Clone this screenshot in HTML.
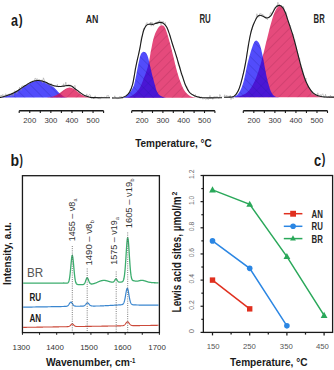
<!DOCTYPE html>
<html><head><meta charset="utf-8"><style>
html,body{margin:0;padding:0;background:#fff;width:334px;height:370px;overflow:hidden}
svg{display:block}
text{font-family:"Liberation Sans",sans-serif}
</style></head><body>
<svg width="334" height="370" viewBox="0 0 334 370">
<defs>
<pattern id="hb" patternUnits="userSpaceOnUse" width="6.5" height="6.5" patternTransform="rotate(-45)"><line x1="0" y1="0" x2="0" y2="6.5" stroke="#1a1a90" stroke-width="0.7" stroke-opacity="0.6"/></pattern>
<pattern id="hp" patternUnits="userSpaceOnUse" width="6.8" height="6.8" patternTransform="rotate(45)"><line x1="0" y1="0" x2="0" y2="6.8" stroke="#8a2045" stroke-width="0.7" stroke-opacity="0.6"/></pattern>
</defs>
<path d="M0.00,97.60 C0.23,97.57 0.45,97.62 1.35,97.40 C2.25,97.18 4.12,96.70 5.40,96.30 C6.68,95.90 7.65,95.52 9.00,95.00 C10.35,94.48 12.00,93.92 13.50,93.20 C15.00,92.48 16.50,91.62 18.00,90.70 C19.50,89.78 21.17,88.57 22.50,87.70 C23.83,86.83 24.97,86.17 26.00,85.50 C27.03,84.83 27.80,84.25 28.70,83.70 C29.60,83.15 30.35,82.65 31.40,82.20 C32.45,81.75 33.80,81.23 35.00,81.00 C36.20,80.77 37.40,80.75 38.60,80.80 C39.80,80.85 41.00,81.00 42.20,81.30 C43.40,81.60 44.60,82.10 45.80,82.60 C47.00,83.10 48.37,83.73 49.40,84.30 C50.43,84.87 51.23,85.45 52.00,86.00 C52.77,86.55 53.07,86.73 54.00,87.60 C54.93,88.47 56.60,90.20 57.60,91.20 C58.60,92.20 58.98,92.73 60.00,93.60 C61.02,94.47 62.37,95.73 63.70,96.40 C65.03,97.07 67.28,97.40 68.00,97.60 L68.00,97.60 L0.00,97.60 Z" fill="#0800fa" fill-opacity="0.70"/>
<path d="M0.00,97.60 C0.23,97.57 0.45,97.62 1.35,97.40 C2.25,97.18 4.12,96.70 5.40,96.30 C6.68,95.90 7.65,95.52 9.00,95.00 C10.35,94.48 12.00,93.92 13.50,93.20 C15.00,92.48 16.50,91.62 18.00,90.70 C19.50,89.78 21.17,88.57 22.50,87.70 C23.83,86.83 24.97,86.17 26.00,85.50 C27.03,84.83 27.80,84.25 28.70,83.70 C29.60,83.15 30.35,82.65 31.40,82.20 C32.45,81.75 33.80,81.23 35.00,81.00 C36.20,80.77 37.40,80.75 38.60,80.80 C39.80,80.85 41.00,81.00 42.20,81.30 C43.40,81.60 44.60,82.10 45.80,82.60 C47.00,83.10 48.37,83.73 49.40,84.30 C50.43,84.87 51.23,85.45 52.00,86.00 C52.77,86.55 53.07,86.73 54.00,87.60 C54.93,88.47 56.60,90.20 57.60,91.20 C58.60,92.20 58.98,92.73 60.00,93.60 C61.02,94.47 62.37,95.73 63.70,96.40 C65.03,97.07 67.28,97.40 68.00,97.60 L68.00,97.60 L0.00,97.60 Z" fill="url(#hb)"/>
<path d="M43.40,97.60 L43.40,97.56 L43.90,97.55 L44.40,97.54 L44.90,97.52 L45.40,97.50 L45.90,97.48 L46.40,97.46 L46.90,97.43 L47.40,97.40 L47.90,97.36 L48.40,97.32 L48.90,97.27 L49.40,97.21 L49.90,97.15 L50.40,97.07 L50.90,96.99 L51.40,96.89 L51.90,96.78 L52.40,96.66 L52.90,96.53 L53.40,96.38 L53.90,96.21 L54.40,96.03 L54.90,95.84 L55.40,95.62 L55.90,95.39 L56.40,95.14 L56.90,94.87 L57.40,94.59 L57.90,94.29 L58.40,93.98 L58.90,93.65 L59.40,93.30 L59.90,92.95 L60.40,92.59 L60.90,92.21 L61.40,91.84 L61.90,91.46 L62.40,91.08 L62.90,90.71 L63.40,90.34 L63.90,89.98 L64.40,89.64 L64.90,89.31 L65.40,89.00 L65.90,88.72 L66.40,88.46 L66.90,88.24 L67.40,88.04 L67.90,87.88 L68.40,87.75 L68.90,87.66 L69.40,87.61 L69.90,87.60 L70.40,87.63 L70.90,87.70 L71.40,87.82 L71.90,87.97 L72.40,88.17 L72.90,88.40 L73.40,88.66 L73.90,88.95 L74.40,89.27 L74.90,89.62 L75.40,89.98 L75.90,90.35 L76.40,90.74 L76.90,91.14 L77.40,91.53 L77.90,91.93 L78.40,92.33 L78.90,92.72 L79.40,93.10 L79.90,93.46 L80.40,93.82 L80.90,94.16 L81.40,94.48 L81.90,94.78 L82.40,95.07 L82.90,95.34 L83.40,95.58 L83.90,95.81 L84.40,96.02 L84.90,96.21 L85.40,96.38 L85.90,96.54 L86.40,96.68 L86.90,96.80 L87.40,96.92 L87.90,97.01 L88.40,97.10 L88.90,97.17 L89.40,97.24 L89.90,97.30 L90.40,97.35 L90.90,97.39 L91.40,97.42 L91.90,97.45 L92.40,97.48 L92.90,97.50 L93.40,97.52 L93.90,97.53 L94.40,97.55 L94.40,97.60 Z" fill="rgb(220,11,77)" fill-opacity="0.75"/>
<path d="M43.40,97.60 L43.40,97.56 L43.90,97.55 L44.40,97.54 L44.90,97.52 L45.40,97.50 L45.90,97.48 L46.40,97.46 L46.90,97.43 L47.40,97.40 L47.90,97.36 L48.40,97.32 L48.90,97.27 L49.40,97.21 L49.90,97.15 L50.40,97.07 L50.90,96.99 L51.40,96.89 L51.90,96.78 L52.40,96.66 L52.90,96.53 L53.40,96.38 L53.90,96.21 L54.40,96.03 L54.90,95.84 L55.40,95.62 L55.90,95.39 L56.40,95.14 L56.90,94.87 L57.40,94.59 L57.90,94.29 L58.40,93.98 L58.90,93.65 L59.40,93.30 L59.90,92.95 L60.40,92.59 L60.90,92.21 L61.40,91.84 L61.90,91.46 L62.40,91.08 L62.90,90.71 L63.40,90.34 L63.90,89.98 L64.40,89.64 L64.90,89.31 L65.40,89.00 L65.90,88.72 L66.40,88.46 L66.90,88.24 L67.40,88.04 L67.90,87.88 L68.40,87.75 L68.90,87.66 L69.40,87.61 L69.90,87.60 L70.40,87.63 L70.90,87.70 L71.40,87.82 L71.90,87.97 L72.40,88.17 L72.90,88.40 L73.40,88.66 L73.90,88.95 L74.40,89.27 L74.90,89.62 L75.40,89.98 L75.90,90.35 L76.40,90.74 L76.90,91.14 L77.40,91.53 L77.90,91.93 L78.40,92.33 L78.90,92.72 L79.40,93.10 L79.90,93.46 L80.40,93.82 L80.90,94.16 L81.40,94.48 L81.90,94.78 L82.40,95.07 L82.90,95.34 L83.40,95.58 L83.90,95.81 L84.40,96.02 L84.90,96.21 L85.40,96.38 L85.90,96.54 L86.40,96.68 L86.90,96.80 L87.40,96.92 L87.90,97.01 L88.40,97.10 L88.90,97.17 L89.40,97.24 L89.90,97.30 L90.40,97.35 L90.90,97.39 L91.40,97.42 L91.90,97.45 L92.40,97.48 L92.90,97.50 L93.40,97.52 L93.90,97.53 L94.40,97.55 L94.40,97.60 Z" fill="url(#hp)"/>
<path d="M0.00,94.82 L0.70,96.84 L1.40,94.98 L2.10,96.45 L2.80,94.36 L3.50,95.66 L4.20,96.66 L4.90,96.37 L5.60,93.81 L6.30,94.24 L7.00,95.28 L7.70,94.85 L8.40,95.22 L9.10,93.70 L9.80,94.09 L10.50,95.78 L11.20,95.85 L11.90,95.60 L12.60,93.44 L13.30,95.63 L14.00,92.22 L14.70,90.68 L15.40,91.38 L16.10,92.00 L16.80,93.55 L17.50,90.94 L18.20,90.31 L18.90,90.54 L19.60,87.12 L20.30,89.15 L21.00,90.25 L21.70,86.17 L22.40,85.87 L23.10,85.84 L23.80,86.41 L24.50,85.55 L25.20,85.77 L25.90,85.71 L26.60,84.49 L27.30,84.13 L28.00,83.10 L28.70,84.52 L29.40,83.90 L30.10,82.44 L30.80,82.27 L31.50,82.12 L32.20,81.74 L32.90,80.68 L33.60,81.46 L34.30,81.28 L35.00,78.16 L35.70,78.52 L36.40,80.04 L37.10,78.52 L37.80,79.92 L38.50,79.83 L39.20,79.14 L39.90,80.38 L40.60,80.16 L41.30,81.49 L42.00,79.71 L42.70,82.91 L43.40,77.80 L44.10,79.46 L44.80,81.23 L45.50,82.85 L46.20,84.07 L46.90,82.31 L47.60,83.14 L48.30,85.14 L49.00,84.41 L49.70,84.46 L50.40,86.23 L51.10,83.41 L51.80,86.47 L52.50,85.92 L53.20,86.16 L53.90,86.41 L54.60,86.65 L55.30,85.69 L56.00,86.79 L56.70,86.31 L57.40,84.38 L58.10,87.04 L58.80,86.85 L59.50,86.05 L60.20,86.24 L60.90,87.08 L61.60,86.21 L62.30,85.29 L63.00,85.68 L63.70,83.70 L64.40,86.66 L65.10,85.66 L65.80,82.09 L66.50,85.82 L67.20,86.11 L67.90,85.94 L68.60,86.22 L69.30,85.09 L70.00,85.24 L70.70,85.28 L71.40,85.90 L72.10,86.61 L72.80,86.87 L73.50,87.52 L74.20,86.12 L74.90,85.36 L75.60,88.63 L76.30,89.93 L77.00,89.90 L77.70,90.75 L78.40,90.66 L79.10,93.33 L79.80,92.34 L80.50,93.24 L81.20,93.31 L81.90,93.88 L82.60,94.60 L83.30,94.82 L84.00,95.79 L84.70,96.05 L85.40,95.49 L86.10,96.71 L86.80,93.86 L87.50,96.87 L88.20,97.01 L88.90,94.94 L89.60,94.41 L90.30,94.85 L91.00,97.30 L91.70,98.20 L92.40,97.08 L93.10,97.59 L93.80,99.01 L94.50,96.94 L95.20,95.82 L95.90,97.82 L96.60,97.04 L97.30,98.07 L98.00,97.98 L98.70,99.06 L99.40,97.58 L100.10,99.16 L100.80,98.30 L101.50,96.87 L102.20,97.99 L102.90,97.13 L103.60,97.93 L104.30,97.16 L105.00,97.14 L105.70,97.69 L106.40,97.84 L107.10,95.29 L107.80,96.06 L108.50,95.47 L109.20,97.52 L109.90,97.50" fill="none" stroke="#a0a0a0" stroke-width="0.55"/>
<path d="M0.00,97.50 C0.23,97.47 0.45,97.53 1.35,97.30 C2.25,97.07 4.12,96.52 5.40,96.10 C6.68,95.68 7.65,95.32 9.00,94.80 C10.35,94.28 12.00,93.72 13.50,93.00 C15.00,92.28 16.50,91.43 18.00,90.50 C19.50,89.57 21.17,88.28 22.50,87.40 C23.83,86.52 24.97,85.87 26.00,85.20 C27.03,84.53 27.80,83.95 28.70,83.40 C29.60,82.85 30.35,82.35 31.40,81.90 C32.45,81.45 33.80,80.93 35.00,80.70 C36.20,80.47 37.40,80.45 38.60,80.50 C39.80,80.55 41.00,80.70 42.20,81.00 C43.40,81.30 44.60,81.82 45.80,82.30 C47.00,82.78 48.03,83.32 49.40,83.90 C50.77,84.48 52.43,85.37 54.00,85.80 C55.57,86.23 57.20,86.45 58.80,86.50 C60.40,86.55 62.00,86.28 63.60,86.10 C65.20,85.92 67.10,85.40 68.40,85.40 C69.70,85.40 70.40,85.63 71.40,86.10 C72.40,86.57 73.30,87.40 74.40,88.20 C75.50,89.00 76.82,90.00 78.00,90.90 C79.18,91.80 80.32,92.80 81.50,93.60 C82.68,94.40 83.70,95.10 85.10,95.70 C86.50,96.30 88.42,96.88 89.90,97.20 C91.38,97.52 90.65,97.50 94.00,97.60 C97.35,97.70 107.33,97.77 110.00,97.80" fill="none" stroke="#1a1a1a" stroke-width="1.1"/>
<path d="M124.00,97.80 C124.93,97.62 127.77,97.42 129.60,96.70 C131.43,95.98 133.27,95.03 135.00,93.50 C136.73,91.97 138.58,89.92 140.00,87.50 C141.42,85.08 142.42,81.75 143.50,79.00 C144.58,76.25 145.67,73.50 146.50,71.00 C147.33,68.50 147.97,66.17 148.50,64.00 C149.03,61.83 149.35,59.92 149.70,58.00 C150.05,56.08 150.28,54.25 150.60,52.50 C150.92,50.75 151.22,49.42 151.60,47.50 C151.98,45.58 152.35,43.20 152.90,41.00 C153.45,38.80 154.12,36.33 154.90,34.30 C155.68,32.27 156.82,30.15 157.60,28.80 C158.38,27.45 158.93,26.80 159.60,26.20 C160.27,25.60 160.95,25.27 161.60,25.20 C162.25,25.13 162.88,25.25 163.50,25.80 C164.12,26.35 164.72,27.30 165.30,28.50 C165.88,29.70 166.20,30.45 167.00,33.00 C167.80,35.55 169.03,39.83 170.10,43.80 C171.17,47.77 172.32,52.47 173.40,56.80 C174.48,61.13 175.52,65.83 176.60,69.80 C177.68,73.77 178.63,77.18 179.90,80.60 C181.17,84.02 182.58,87.78 184.20,90.30 C185.82,92.82 187.80,94.50 189.60,95.70 C191.40,96.90 193.27,97.15 195.00,97.50 C196.73,97.85 199.17,97.75 200.00,97.80 L200.00,97.80 L124.00,97.80 Z" fill="#e54a7c"/>
<path d="M124.00,97.80 C124.93,97.62 127.77,97.42 129.60,96.70 C131.43,95.98 133.27,95.03 135.00,93.50 C136.73,91.97 138.58,89.92 140.00,87.50 C141.42,85.08 142.42,81.75 143.50,79.00 C144.58,76.25 145.67,73.50 146.50,71.00 C147.33,68.50 147.97,66.17 148.50,64.00 C149.03,61.83 149.35,59.92 149.70,58.00 C150.05,56.08 150.28,54.25 150.60,52.50 C150.92,50.75 151.22,49.42 151.60,47.50 C151.98,45.58 152.35,43.20 152.90,41.00 C153.45,38.80 154.12,36.33 154.90,34.30 C155.68,32.27 156.82,30.15 157.60,28.80 C158.38,27.45 158.93,26.80 159.60,26.20 C160.27,25.60 160.95,25.27 161.60,25.20 C162.25,25.13 162.88,25.25 163.50,25.80 C164.12,26.35 164.72,27.30 165.30,28.50 C165.88,29.70 166.20,30.45 167.00,33.00 C167.80,35.55 169.03,39.83 170.10,43.80 C171.17,47.77 172.32,52.47 173.40,56.80 C174.48,61.13 175.52,65.83 176.60,69.80 C177.68,73.77 178.63,77.18 179.90,80.60 C181.17,84.02 182.58,87.78 184.20,90.30 C185.82,92.82 187.80,94.50 189.60,95.70 C191.40,96.90 193.27,97.15 195.00,97.50 C196.73,97.85 199.17,97.75 200.00,97.80 L200.00,97.80 L124.00,97.80 Z" fill="url(#hp)"/>
<path d="M121.50,97.80 C122.17,97.57 124.27,97.10 125.50,96.40 C126.73,95.70 127.80,94.83 128.90,93.60 C130.00,92.37 131.22,90.53 132.10,89.00 C132.98,87.47 133.52,86.70 134.20,84.40 C134.88,82.10 135.53,78.43 136.20,75.20 C136.87,71.97 137.52,68.23 138.20,65.00 C138.88,61.77 139.63,57.87 140.30,55.80 C140.97,53.73 141.55,53.25 142.20,52.60 C142.85,51.95 143.53,51.80 144.20,51.90 C144.87,52.00 145.55,52.27 146.20,53.20 C146.85,54.13 147.45,55.37 148.10,57.50 C148.75,59.63 149.42,63.08 150.10,66.00 C150.78,68.92 151.47,72.08 152.20,75.00 C152.93,77.92 153.73,80.80 154.50,83.50 C155.27,86.20 155.88,89.20 156.80,91.20 C157.72,93.20 158.63,94.43 160.00,95.50 C161.37,96.57 163.67,97.22 165.00,97.60 C166.33,97.98 167.50,97.77 168.00,97.80 L168.00,97.80 L121.50,97.80 Z" fill="#0800fa" fill-opacity="0.70"/>
<path d="M121.50,97.80 C122.17,97.57 124.27,97.10 125.50,96.40 C126.73,95.70 127.80,94.83 128.90,93.60 C130.00,92.37 131.22,90.53 132.10,89.00 C132.98,87.47 133.52,86.70 134.20,84.40 C134.88,82.10 135.53,78.43 136.20,75.20 C136.87,71.97 137.52,68.23 138.20,65.00 C138.88,61.77 139.63,57.87 140.30,55.80 C140.97,53.73 141.55,53.25 142.20,52.60 C142.85,51.95 143.53,51.80 144.20,51.90 C144.87,52.00 145.55,52.27 146.20,53.20 C146.85,54.13 147.45,55.37 148.10,57.50 C148.75,59.63 149.42,63.08 150.10,66.00 C150.78,68.92 151.47,72.08 152.20,75.00 C152.93,77.92 153.73,80.80 154.50,83.50 C155.27,86.20 155.88,89.20 156.80,91.20 C157.72,93.20 158.63,94.43 160.00,95.50 C161.37,96.57 163.67,97.22 165.00,97.60 C166.33,97.98 167.50,97.77 168.00,97.80 L168.00,97.80 L121.50,97.80 Z" fill="url(#hb)"/>
<path d="M112.00,97.45 L112.70,98.08 L113.40,98.28 L114.10,97.55 L114.80,95.81 L115.50,97.91 L116.20,98.47 L116.90,98.00 L117.60,98.66 L118.30,98.44 L119.00,98.15 L119.70,96.42 L120.40,97.26 L121.10,96.24 L121.80,98.11 L122.50,98.86 L123.20,96.99 L123.90,96.57 L124.60,96.43 L125.30,97.07 L126.00,95.61 L126.70,95.17 L127.40,94.12 L128.10,94.06 L128.80,92.82 L129.50,92.44 L130.20,89.75 L130.90,90.78 L131.60,87.63 L132.30,85.65 L133.00,83.33 L133.70,78.97 L134.40,74.71 L135.10,68.40 L135.80,67.57 L136.50,63.95 L137.20,59.93 L137.90,57.31 L138.60,54.57 L139.30,51.17 L140.00,47.94 L140.70,42.11 L141.40,36.85 L142.10,36.62 L142.80,33.72 L143.50,28.23 L144.20,29.37 L144.90,27.54 L145.60,25.69 L146.30,23.48 L147.00,22.50 L147.70,25.15 L148.40,24.16 L149.10,24.48 L149.80,24.33 L150.50,22.04 L151.20,26.21 L151.90,22.04 L152.60,24.58 L153.30,26.09 L154.00,24.09 L154.70,23.36 L155.40,23.18 L156.10,21.91 L156.80,23.52 L157.50,23.89 L158.20,21.00 L158.90,21.99 L159.60,20.23 L160.30,22.43 L161.00,24.86 L161.70,21.59 L162.40,22.83 L163.10,21.17 L163.80,23.44 L164.50,23.60 L165.20,22.44 L165.90,26.17 L166.60,26.66 L167.30,28.17 L168.00,30.14 L168.70,32.72 L169.40,33.45 L170.10,35.81 L170.80,39.61 L171.50,40.42 L172.20,43.82 L172.90,45.81 L173.60,48.09 L174.30,49.70 L175.00,51.13 L175.70,53.86 L176.40,57.23 L177.10,57.02 L177.80,62.51 L178.50,65.73 L179.20,65.51 L179.90,66.72 L180.60,70.18 L181.30,74.97 L182.00,75.81 L182.70,75.64 L183.40,77.74 L184.10,81.20 L184.80,83.99 L185.50,85.05 L186.20,86.81 L186.90,86.41 L187.60,88.12 L188.30,90.92 L189.00,92.51 L189.70,92.47 L190.40,93.95 L191.10,93.34 L191.80,94.66 L192.50,94.75 L193.20,94.45 L193.90,96.09 L194.60,96.31 L195.30,94.44 L196.00,96.45 L196.70,97.28 L197.40,97.07 L198.10,96.97 L198.80,96.53 L199.50,96.94 L200.20,98.62 L200.90,97.22 L201.60,96.79 L202.30,97.76 L203.00,99.26 L203.70,98.55 L204.40,98.43 L205.10,98.34 L205.80,99.62 L206.50,98.94 L207.20,97.82 L207.90,99.47 L208.60,99.27 L209.30,97.60 L210.00,95.33 L210.70,98.16 L211.40,97.42 L212.10,97.56 L212.80,99.35 L213.50,97.54 L214.20,96.33 L214.90,97.71 L215.60,96.58 L216.30,97.42 L217.00,96.18 L217.70,97.66 L218.40,98.35 L219.10,98.50 L219.80,94.51 L220.50,95.69 L221.20,97.63 L221.90,96.56" fill="none" stroke="#a0a0a0" stroke-width="0.55"/>
<path d="M112.00,97.90 C112.67,97.92 114.42,98.03 116.00,98.00 C117.58,97.97 119.82,98.05 121.50,97.70 C123.18,97.35 124.72,96.90 126.10,95.90 C127.48,94.90 128.72,93.62 129.80,91.70 C130.88,89.78 131.83,87.15 132.60,84.40 C133.37,81.65 133.85,78.18 134.40,75.20 C134.95,72.22 135.25,69.78 135.90,66.50 C136.55,63.22 137.63,58.55 138.30,55.50 C138.97,52.45 139.32,51.13 139.90,48.20 C140.48,45.27 141.13,40.97 141.80,37.90 C142.47,34.83 143.13,31.90 143.90,29.80 C144.67,27.70 145.50,26.23 146.40,25.30 C147.30,24.37 148.15,24.37 149.30,24.20 C150.45,24.03 152.07,24.48 153.30,24.30 C154.53,24.12 155.58,23.42 156.70,23.10 C157.82,22.78 158.88,22.35 160.00,22.40 C161.12,22.45 162.27,22.58 163.40,23.40 C164.53,24.22 165.73,25.33 166.80,27.30 C167.87,29.27 168.88,32.50 169.80,35.20 C170.72,37.90 171.17,39.90 172.30,43.50 C173.43,47.10 175.15,52.07 176.60,56.80 C178.05,61.53 179.55,67.25 181.00,71.90 C182.45,76.55 183.87,81.27 185.30,84.70 C186.73,88.13 187.98,90.62 189.60,92.50 C191.22,94.38 193.27,95.18 195.00,96.00 C196.73,96.82 198.33,97.10 200.00,97.40 C201.67,97.70 201.33,97.73 205.00,97.80 C208.67,97.87 219.17,97.80 222.00,97.80" fill="none" stroke="#1a1a1a" stroke-width="1.1"/>
<path d="M235.25,97.20 L235.25,96.81 L235.75,96.75 L236.25,96.70 L236.75,96.63 L237.25,96.56 L237.75,96.49 L238.25,96.40 L238.75,96.30 L239.25,96.20 L239.75,96.08 L240.25,95.95 L240.75,95.81 L241.25,95.65 L241.75,95.48 L242.25,95.29 L242.75,95.09 L243.25,94.86 L243.75,94.62 L244.25,94.35 L244.75,94.06 L245.25,93.75 L245.75,93.41 L246.25,93.04 L246.75,92.64 L247.25,92.21 L247.75,91.75 L248.25,91.25 L248.75,90.72 L249.25,90.15 L249.75,89.53 L250.25,88.88 L250.75,88.18 L251.25,87.44 L251.75,86.66 L252.25,85.82 L252.75,84.94 L253.25,84.00 L253.75,83.01 L254.25,81.97 L254.75,80.88 L255.25,79.73 L255.75,78.52 L256.25,77.26 L256.75,75.95 L257.25,74.57 L257.75,73.15 L258.25,71.66 L258.75,70.13 L259.25,68.54 L259.75,66.90 L260.25,65.20 L260.75,63.47 L261.25,61.68 L261.75,59.85 L262.25,57.98 L262.75,56.08 L263.25,54.14 L263.75,52.17 L264.25,50.17 L264.75,48.15 L265.25,46.12 L265.75,44.08 L266.25,42.03 L266.75,39.98 L267.25,37.93 L267.75,35.90 L268.25,33.88 L268.75,31.89 L269.25,29.92 L269.75,28.00 L270.25,26.11 L270.75,24.27 L271.25,22.49 L271.75,20.77 L272.25,19.12 L272.75,17.54 L273.25,16.04 L273.75,14.62 L274.25,13.30 L274.75,12.07 L275.25,10.94 L275.75,9.92 L276.25,9.00 L276.75,8.20 L277.25,7.51 L277.75,6.95 L278.25,6.50 L278.75,6.18 L279.25,5.98 L279.75,5.90 L279.84,5.79 L280.19,5.88 L280.53,6.02 L280.87,6.19 L281.21,6.40 L281.54,6.65 L281.86,6.93 L282.18,7.24 L282.50,7.58 L282.80,7.95 L283.10,8.36 L283.39,8.81 L283.67,9.30 L283.95,9.83 L284.23,10.39 L284.49,10.96 L284.75,11.56 L285.01,12.15 L285.26,12.76 L285.50,13.35 L285.73,13.95 L285.96,14.56 L286.17,15.19 L286.38,15.83 L286.58,16.48 L286.78,17.13 L286.98,17.79 L287.18,18.45 L287.39,19.10 L287.60,19.75 L287.82,20.40 L288.03,21.04 L288.25,21.69 L288.47,22.34 L288.69,22.99 L288.92,23.65 L289.14,24.30 L289.36,24.95 L289.58,25.60 L289.80,26.25 L290.02,26.90 L290.25,27.57 L290.48,28.23 L290.71,28.90 L290.94,29.57 L291.16,30.23 L291.38,30.88 L291.60,31.52 L291.80,32.14 L292.00,32.75 L292.18,33.32 L292.34,33.83 L292.49,34.32 L292.64,34.78 L292.78,35.25 L292.92,35.73 L293.07,36.25 L293.23,36.81 L293.40,37.44 L293.60,38.15 L293.82,38.95 L294.06,39.82 L294.31,40.75 L294.58,41.73 L294.85,42.74 L295.13,43.78 L295.40,44.82 L295.68,45.85 L295.94,46.87 L296.20,47.85 L296.44,48.79 L296.68,49.71 L296.91,50.62 L297.13,51.52 L297.36,52.43 L297.58,53.34 L297.82,54.29 L298.07,55.26 L298.32,56.28 L298.60,57.35 L298.89,58.48 L299.19,59.67 L299.50,60.90 L299.82,62.16 L300.15,63.44 L300.49,64.74 L300.83,66.04 L301.18,67.33 L301.54,68.61 L301.90,69.85 L302.27,71.08 L302.64,72.33 L303.02,73.59 L303.41,74.84 L303.80,76.08 L304.20,77.30 L304.61,78.50 L305.03,79.66 L305.46,80.78 L305.90,81.85 L306.35,82.88 L306.82,83.88 L307.30,84.86 L307.80,85.81 L308.29,86.72 L308.80,87.59 L309.30,88.43 L309.81,89.22 L310.31,89.96 L310.80,90.65 L311.28,91.29 L311.75,91.87 L312.22,92.39 L312.68,92.88 L313.15,93.32 L313.62,93.74 L314.11,94.12 L314.62,94.48 L315.15,94.82 L315.70,95.15 L316.26,95.46 L316.81,95.74 L317.37,95.99 L317.93,96.21 L318.52,96.41 L319.14,96.59 L319.81,96.75 L320.54,96.90 L321.33,97.03 L322.20,97.15 L323.22,97.25 L324.41,97.32 L325.72,97.37 L327.10,97.41 L328.51,97.42 L329.88,97.43 L331.16,97.44 L332.31,97.44 L333.27,97.44 L334.00,97.45 L334.00,97.20 Z" fill="#e54a7c"/>
<path d="M235.25,97.20 L235.25,96.81 L235.75,96.75 L236.25,96.70 L236.75,96.63 L237.25,96.56 L237.75,96.49 L238.25,96.40 L238.75,96.30 L239.25,96.20 L239.75,96.08 L240.25,95.95 L240.75,95.81 L241.25,95.65 L241.75,95.48 L242.25,95.29 L242.75,95.09 L243.25,94.86 L243.75,94.62 L244.25,94.35 L244.75,94.06 L245.25,93.75 L245.75,93.41 L246.25,93.04 L246.75,92.64 L247.25,92.21 L247.75,91.75 L248.25,91.25 L248.75,90.72 L249.25,90.15 L249.75,89.53 L250.25,88.88 L250.75,88.18 L251.25,87.44 L251.75,86.66 L252.25,85.82 L252.75,84.94 L253.25,84.00 L253.75,83.01 L254.25,81.97 L254.75,80.88 L255.25,79.73 L255.75,78.52 L256.25,77.26 L256.75,75.95 L257.25,74.57 L257.75,73.15 L258.25,71.66 L258.75,70.13 L259.25,68.54 L259.75,66.90 L260.25,65.20 L260.75,63.47 L261.25,61.68 L261.75,59.85 L262.25,57.98 L262.75,56.08 L263.25,54.14 L263.75,52.17 L264.25,50.17 L264.75,48.15 L265.25,46.12 L265.75,44.08 L266.25,42.03 L266.75,39.98 L267.25,37.93 L267.75,35.90 L268.25,33.88 L268.75,31.89 L269.25,29.92 L269.75,28.00 L270.25,26.11 L270.75,24.27 L271.25,22.49 L271.75,20.77 L272.25,19.12 L272.75,17.54 L273.25,16.04 L273.75,14.62 L274.25,13.30 L274.75,12.07 L275.25,10.94 L275.75,9.92 L276.25,9.00 L276.75,8.20 L277.25,7.51 L277.75,6.95 L278.25,6.50 L278.75,6.18 L279.25,5.98 L279.75,5.90 L279.84,5.79 L280.19,5.88 L280.53,6.02 L280.87,6.19 L281.21,6.40 L281.54,6.65 L281.86,6.93 L282.18,7.24 L282.50,7.58 L282.80,7.95 L283.10,8.36 L283.39,8.81 L283.67,9.30 L283.95,9.83 L284.23,10.39 L284.49,10.96 L284.75,11.56 L285.01,12.15 L285.26,12.76 L285.50,13.35 L285.73,13.95 L285.96,14.56 L286.17,15.19 L286.38,15.83 L286.58,16.48 L286.78,17.13 L286.98,17.79 L287.18,18.45 L287.39,19.10 L287.60,19.75 L287.82,20.40 L288.03,21.04 L288.25,21.69 L288.47,22.34 L288.69,22.99 L288.92,23.65 L289.14,24.30 L289.36,24.95 L289.58,25.60 L289.80,26.25 L290.02,26.90 L290.25,27.57 L290.48,28.23 L290.71,28.90 L290.94,29.57 L291.16,30.23 L291.38,30.88 L291.60,31.52 L291.80,32.14 L292.00,32.75 L292.18,33.32 L292.34,33.83 L292.49,34.32 L292.64,34.78 L292.78,35.25 L292.92,35.73 L293.07,36.25 L293.23,36.81 L293.40,37.44 L293.60,38.15 L293.82,38.95 L294.06,39.82 L294.31,40.75 L294.58,41.73 L294.85,42.74 L295.13,43.78 L295.40,44.82 L295.68,45.85 L295.94,46.87 L296.20,47.85 L296.44,48.79 L296.68,49.71 L296.91,50.62 L297.13,51.52 L297.36,52.43 L297.58,53.34 L297.82,54.29 L298.07,55.26 L298.32,56.28 L298.60,57.35 L298.89,58.48 L299.19,59.67 L299.50,60.90 L299.82,62.16 L300.15,63.44 L300.49,64.74 L300.83,66.04 L301.18,67.33 L301.54,68.61 L301.90,69.85 L302.27,71.08 L302.64,72.33 L303.02,73.59 L303.41,74.84 L303.80,76.08 L304.20,77.30 L304.61,78.50 L305.03,79.66 L305.46,80.78 L305.90,81.85 L306.35,82.88 L306.82,83.88 L307.30,84.86 L307.80,85.81 L308.29,86.72 L308.80,87.59 L309.30,88.43 L309.81,89.22 L310.31,89.96 L310.80,90.65 L311.28,91.29 L311.75,91.87 L312.22,92.39 L312.68,92.88 L313.15,93.32 L313.62,93.74 L314.11,94.12 L314.62,94.48 L315.15,94.82 L315.70,95.15 L316.26,95.46 L316.81,95.74 L317.37,95.99 L317.93,96.21 L318.52,96.41 L319.14,96.59 L319.81,96.75 L320.54,96.90 L321.33,97.03 L322.20,97.15 L323.22,97.25 L324.41,97.32 L325.72,97.37 L327.10,97.41 L328.51,97.42 L329.88,97.43 L331.16,97.44 L332.31,97.44 L333.27,97.44 L334.00,97.45 L334.00,97.20 Z" fill="url(#hp)"/>
<path d="M230.00,97.20 C231.07,96.92 234.60,96.80 236.40,95.50 C238.20,94.20 239.48,92.17 240.80,89.40 C242.12,86.63 243.28,82.70 244.30,78.90 C245.32,75.10 246.03,70.40 246.90,66.60 C247.77,62.80 248.62,59.32 249.50,56.10 C250.38,52.88 251.42,49.60 252.20,47.30 C252.98,45.00 253.53,43.45 254.20,42.30 C254.87,41.15 255.53,40.45 256.20,40.40 C256.87,40.35 257.55,41.13 258.20,42.00 C258.85,42.87 259.35,43.25 260.10,45.60 C260.85,47.95 261.83,52.02 262.70,56.10 C263.57,60.18 264.42,65.72 265.30,70.10 C266.18,74.48 266.97,78.65 268.00,82.40 C269.03,86.15 270.33,90.25 271.50,92.60 C272.67,94.95 273.58,95.73 275.00,96.50 C276.42,97.27 279.17,97.08 280.00,97.20 L280.00,97.20 L230.00,97.20 Z" fill="#0800fa" fill-opacity="0.70"/>
<path d="M230.00,97.20 C231.07,96.92 234.60,96.80 236.40,95.50 C238.20,94.20 239.48,92.17 240.80,89.40 C242.12,86.63 243.28,82.70 244.30,78.90 C245.32,75.10 246.03,70.40 246.90,66.60 C247.77,62.80 248.62,59.32 249.50,56.10 C250.38,52.88 251.42,49.60 252.20,47.30 C252.98,45.00 253.53,43.45 254.20,42.30 C254.87,41.15 255.53,40.45 256.20,40.40 C256.87,40.35 257.55,41.13 258.20,42.00 C258.85,42.87 259.35,43.25 260.10,45.60 C260.85,47.95 261.83,52.02 262.70,56.10 C263.57,60.18 264.42,65.72 265.30,70.10 C266.18,74.48 266.97,78.65 268.00,82.40 C269.03,86.15 270.33,90.25 271.50,92.60 C272.67,94.95 273.58,95.73 275.00,96.50 C276.42,97.27 279.17,97.08 280.00,97.20 L280.00,97.20 L230.00,97.20 Z" fill="url(#hb)"/>
<path d="M224.00,96.89 L224.70,94.74 L225.40,96.83 L226.10,97.71 L226.80,95.12 L227.50,97.05 L228.20,96.76 L228.90,95.82 L229.60,97.60 L230.30,95.37 L231.00,99.59 L231.70,97.61 L232.40,96.61 L233.10,98.72 L233.80,96.95 L234.50,96.28 L235.20,95.51 L235.90,95.40 L236.60,94.32 L237.30,93.85 L238.00,91.29 L238.70,89.33 L239.40,88.29 L240.10,86.23 L240.80,84.57 L241.50,79.93 L242.20,79.54 L242.90,74.77 L243.60,72.15 L244.30,69.73 L245.00,64.26 L245.70,62.09 L246.40,59.20 L247.10,53.52 L247.80,49.35 L248.50,42.25 L249.20,40.51 L249.90,36.82 L250.60,34.41 L251.30,30.38 L252.00,29.94 L252.70,27.00 L253.40,24.14 L254.10,23.17 L254.80,20.87 L255.50,20.37 L256.20,17.48 L256.90,13.71 L257.60,16.62 L258.30,15.69 L259.00,17.33 L259.70,13.63 L260.40,13.69 L261.10,13.46 L261.80,15.94 L262.50,13.98 L263.20,14.98 L263.90,16.31 L264.60,15.96 L265.30,17.37 L266.00,16.67 L266.70,18.26 L267.40,19.81 L268.10,17.49 L268.80,17.25 L269.50,17.54 L270.20,13.69 L270.90,12.34 L271.60,14.56 L272.30,13.23 L273.00,10.96 L273.70,10.88 L274.40,7.66 L275.10,8.05 L275.80,8.37 L276.50,5.18 L277.20,6.58 L277.90,2.27 L278.60,6.18 L279.30,4.78 L280.00,5.33 L280.70,5.92 L281.40,5.72 L282.10,6.42 L282.80,8.08 L283.50,6.33 L284.20,10.01 L284.90,12.87 L285.60,11.58 L286.30,12.76 L287.00,16.97 L287.70,19.77 L288.40,21.51 L289.10,23.95 L289.80,26.12 L290.50,25.50 L291.20,31.87 L291.90,32.48 L292.60,33.87 L293.30,34.23 L294.00,38.68 L294.70,39.45 L295.40,43.87 L296.10,47.51 L296.80,49.22 L297.50,52.48 L298.20,54.93 L298.90,58.86 L299.60,58.21 L300.30,63.66 L301.00,64.17 L301.70,67.64 L302.40,68.56 L303.10,73.18 L303.80,75.23 L304.50,76.83 L305.20,80.61 L305.90,77.99 L306.60,83.31 L307.30,84.04 L308.00,85.29 L308.70,87.27 L309.40,88.75 L310.10,89.42 L310.80,89.75 L311.50,91.38 L312.20,94.67 L312.90,92.84 L313.60,93.74 L314.30,93.45 L315.00,93.74 L315.70,94.46 L316.40,95.86 L317.10,96.55 L317.80,92.80 L318.50,95.96 L319.20,95.31 L319.90,95.63 L320.60,94.57 L321.30,96.29 L322.00,94.52 L322.70,93.75 L323.40,95.34 L324.10,97.15 L324.80,97.38 L325.50,94.27 L326.20,97.12 L326.90,97.26 L327.60,97.68 L328.30,96.72 L329.00,96.44 L329.70,97.83 L330.40,95.26 L331.10,96.26 L331.80,97.24 L332.50,97.29 L333.20,97.87 L333.90,96.47" fill="none" stroke="#a0a0a0" stroke-width="0.55"/>
<path d="M224.00,97.20 C224.67,97.20 226.37,97.33 228.00,97.20 C229.63,97.07 232.12,97.42 233.80,96.40 C235.48,95.38 236.80,93.73 238.10,91.10 C239.40,88.47 240.42,84.98 241.60,80.60 C242.78,76.22 244.17,70.07 245.20,64.80 C246.23,59.53 246.97,53.88 247.80,49.00 C248.63,44.12 249.45,39.08 250.20,35.50 C250.95,31.92 251.60,29.70 252.30,27.50 C253.00,25.30 253.60,24.03 254.40,22.30 C255.20,20.57 256.20,18.27 257.10,17.10 C258.00,15.93 258.75,15.40 259.80,15.30 C260.85,15.20 262.22,16.05 263.40,16.50 C264.58,16.95 265.72,18.05 266.90,18.00 C268.08,17.95 269.45,17.25 270.50,16.20 C271.55,15.15 272.30,13.20 273.20,11.70 C274.10,10.20 274.85,8.25 275.90,7.20 C276.95,6.15 278.35,5.33 279.50,5.40 C280.65,5.47 281.80,6.33 282.80,7.60 C283.80,8.87 284.70,11.03 285.50,13.00 C286.30,14.97 286.88,17.25 287.60,19.40 C288.32,21.55 289.07,23.73 289.80,25.90 C290.53,28.07 291.37,30.42 292.00,32.40 C292.63,34.38 292.90,35.28 293.60,37.80 C294.30,40.32 295.37,44.30 296.20,47.50 C297.03,50.70 297.65,53.33 298.60,57.00 C299.55,60.67 300.68,65.42 301.90,69.50 C303.12,73.58 304.42,78.03 305.90,81.50 C307.38,84.97 309.17,88.08 310.80,90.30 C312.43,92.52 313.80,93.72 315.70,94.80 C317.60,95.88 319.15,96.42 322.20,96.80 C325.25,97.18 332.03,97.05 334.00,97.10" fill="none" stroke="#1a1a1a" stroke-width="1.1"/>
<line x1="19.20" y1="110.70" x2="103.60" y2="110.70" stroke="#1a1a1a" stroke-width="1.4"/>
<line x1="19.20" y1="110.70" x2="19.20" y2="113.00" stroke="#1a1a1a" stroke-width="1.1"/>
<line x1="29.75" y1="110.70" x2="29.75" y2="113.00" stroke="#1a1a1a" stroke-width="1.1"/>
<line x1="40.30" y1="110.70" x2="40.30" y2="113.00" stroke="#1a1a1a" stroke-width="1.1"/>
<line x1="50.85" y1="110.70" x2="50.85" y2="113.00" stroke="#1a1a1a" stroke-width="1.1"/>
<line x1="61.40" y1="110.70" x2="61.40" y2="113.00" stroke="#1a1a1a" stroke-width="1.1"/>
<line x1="71.95" y1="110.70" x2="71.95" y2="113.00" stroke="#1a1a1a" stroke-width="1.1"/>
<line x1="82.50" y1="110.70" x2="82.50" y2="113.00" stroke="#1a1a1a" stroke-width="1.1"/>
<line x1="93.05" y1="110.70" x2="93.05" y2="113.00" stroke="#1a1a1a" stroke-width="1.1"/>
<line x1="103.60" y1="110.70" x2="103.60" y2="113.00" stroke="#1a1a1a" stroke-width="1.1"/>
<text x="29.75" y="123.3" font-size="8" fill="#3a3a3a" text-anchor="middle" textLength="12.9" lengthAdjust="spacingAndGlyphs">200</text>
<text x="50.85" y="123.3" font-size="8" fill="#3a3a3a" text-anchor="middle" textLength="12.9" lengthAdjust="spacingAndGlyphs">300</text>
<text x="71.95" y="123.3" font-size="8" fill="#3a3a3a" text-anchor="middle" textLength="12.9" lengthAdjust="spacingAndGlyphs">400</text>
<text x="93.05" y="123.3" font-size="8" fill="#3a3a3a" text-anchor="middle" textLength="12.9" lengthAdjust="spacingAndGlyphs">500</text>
<line x1="131.70" y1="110.70" x2="214.90" y2="110.70" stroke="#1a1a1a" stroke-width="1.4"/>
<line x1="131.70" y1="110.70" x2="131.70" y2="113.00" stroke="#1a1a1a" stroke-width="1.1"/>
<line x1="142.10" y1="110.70" x2="142.10" y2="113.00" stroke="#1a1a1a" stroke-width="1.1"/>
<line x1="152.50" y1="110.70" x2="152.50" y2="113.00" stroke="#1a1a1a" stroke-width="1.1"/>
<line x1="162.90" y1="110.70" x2="162.90" y2="113.00" stroke="#1a1a1a" stroke-width="1.1"/>
<line x1="173.30" y1="110.70" x2="173.30" y2="113.00" stroke="#1a1a1a" stroke-width="1.1"/>
<line x1="183.70" y1="110.70" x2="183.70" y2="113.00" stroke="#1a1a1a" stroke-width="1.1"/>
<line x1="194.10" y1="110.70" x2="194.10" y2="113.00" stroke="#1a1a1a" stroke-width="1.1"/>
<line x1="204.50" y1="110.70" x2="204.50" y2="113.00" stroke="#1a1a1a" stroke-width="1.1"/>
<line x1="214.90" y1="110.70" x2="214.90" y2="113.00" stroke="#1a1a1a" stroke-width="1.1"/>
<text x="142.10" y="123.3" font-size="8" fill="#3a3a3a" text-anchor="middle" textLength="12.9" lengthAdjust="spacingAndGlyphs">200</text>
<text x="162.90" y="123.3" font-size="8" fill="#3a3a3a" text-anchor="middle" textLength="12.9" lengthAdjust="spacingAndGlyphs">300</text>
<text x="183.70" y="123.3" font-size="8" fill="#3a3a3a" text-anchor="middle" textLength="12.9" lengthAdjust="spacingAndGlyphs">400</text>
<text x="204.50" y="123.3" font-size="8" fill="#3a3a3a" text-anchor="middle" textLength="12.9" lengthAdjust="spacingAndGlyphs">500</text>
<line x1="243.30" y1="110.70" x2="327.50" y2="110.70" stroke="#1a1a1a" stroke-width="1.4"/>
<line x1="243.30" y1="110.70" x2="243.30" y2="113.00" stroke="#1a1a1a" stroke-width="1.1"/>
<line x1="253.83" y1="110.70" x2="253.83" y2="113.00" stroke="#1a1a1a" stroke-width="1.1"/>
<line x1="264.35" y1="110.70" x2="264.35" y2="113.00" stroke="#1a1a1a" stroke-width="1.1"/>
<line x1="274.88" y1="110.70" x2="274.88" y2="113.00" stroke="#1a1a1a" stroke-width="1.1"/>
<line x1="285.40" y1="110.70" x2="285.40" y2="113.00" stroke="#1a1a1a" stroke-width="1.1"/>
<line x1="295.93" y1="110.70" x2="295.93" y2="113.00" stroke="#1a1a1a" stroke-width="1.1"/>
<line x1="306.45" y1="110.70" x2="306.45" y2="113.00" stroke="#1a1a1a" stroke-width="1.1"/>
<line x1="316.98" y1="110.70" x2="316.98" y2="113.00" stroke="#1a1a1a" stroke-width="1.1"/>
<line x1="327.50" y1="110.70" x2="327.50" y2="113.00" stroke="#1a1a1a" stroke-width="1.1"/>
<text x="253.83" y="123.3" font-size="8" fill="#3a3a3a" text-anchor="middle" textLength="12.9" lengthAdjust="spacingAndGlyphs">200</text>
<text x="274.88" y="123.3" font-size="8" fill="#3a3a3a" text-anchor="middle" textLength="12.9" lengthAdjust="spacingAndGlyphs">300</text>
<text x="295.93" y="123.3" font-size="8" fill="#3a3a3a" text-anchor="middle" textLength="12.9" lengthAdjust="spacingAndGlyphs">400</text>
<text x="316.98" y="123.3" font-size="8" fill="#3a3a3a" text-anchor="middle" textLength="12.9" lengthAdjust="spacingAndGlyphs">500</text>
<text x="11.00" y="25.70" font-size="16.50" font-weight="bold" fill="#1a1a1a" textLength="7.00" lengthAdjust="spacingAndGlyphs" >a</text>
<text x="18.80" y="24.80" font-size="15.00" font-weight="bold" fill="#1a1a1a" textLength="3.90" lengthAdjust="spacingAndGlyphs" >)</text>
<text x="85.70" y="22.70" font-size="11.80" font-weight="bold" fill="#262626" textLength="12.70" lengthAdjust="spacingAndGlyphs" >AN</text>
<text x="199.40" y="22.90" font-size="12.20" font-weight="bold" fill="#262626" textLength="11.30" lengthAdjust="spacingAndGlyphs" >RU</text>
<text x="313.60" y="23.20" font-size="12.30" font-weight="bold" fill="#262626" textLength="11.10" lengthAdjust="spacingAndGlyphs" >BR</text>
<text x="135.20" y="146.50" font-size="11.60" font-weight="bold" fill="#1a1a1a" textLength="76.60" lengthAdjust="spacingAndGlyphs" >Temperature, °C</text>
<text x="10.60" y="165.60" font-size="16.50" font-weight="bold" fill="#1a1a1a" textLength="8.60" lengthAdjust="spacingAndGlyphs" >b</text>
<text x="19.60" y="165.20" font-size="15.00" font-weight="bold" fill="#1a1a1a" textLength="3.40" lengthAdjust="spacingAndGlyphs" >)</text>
<rect x="22.45" y="175.70" width="136.95" height="156.90" fill="none" stroke="#1a1a1a" stroke-width="1.3"/>
<line x1="22.45" y1="332.60" x2="22.45" y2="334.80" stroke="#1a1a1a" stroke-width="1"/>
<line x1="39.57" y1="332.60" x2="39.57" y2="334.80" stroke="#1a1a1a" stroke-width="1"/>
<line x1="56.69" y1="332.60" x2="56.69" y2="334.80" stroke="#1a1a1a" stroke-width="1"/>
<line x1="73.81" y1="332.60" x2="73.81" y2="334.80" stroke="#1a1a1a" stroke-width="1"/>
<line x1="90.93" y1="332.60" x2="90.93" y2="334.80" stroke="#1a1a1a" stroke-width="1"/>
<line x1="108.04" y1="332.60" x2="108.04" y2="334.80" stroke="#1a1a1a" stroke-width="1"/>
<line x1="125.16" y1="332.60" x2="125.16" y2="334.80" stroke="#1a1a1a" stroke-width="1"/>
<line x1="142.28" y1="332.60" x2="142.28" y2="334.80" stroke="#1a1a1a" stroke-width="1"/>
<line x1="159.40" y1="332.60" x2="159.40" y2="334.80" stroke="#1a1a1a" stroke-width="1"/>
<text x="21.30" y="349.8" font-size="7.8" fill="#333" text-anchor="middle" textLength="17.6" lengthAdjust="spacingAndGlyphs">1300</text>
<text x="55.00" y="349.8" font-size="7.8" fill="#333" text-anchor="middle" textLength="17.6" lengthAdjust="spacingAndGlyphs">1400</text>
<text x="89.00" y="349.8" font-size="7.8" fill="#333" text-anchor="middle" textLength="17.6" lengthAdjust="spacingAndGlyphs">1500</text>
<text x="122.60" y="349.8" font-size="7.8" fill="#333" text-anchor="middle" textLength="17.6" lengthAdjust="spacingAndGlyphs">1600</text>
<text x="157.10" y="349.8" font-size="7.8" fill="#333" text-anchor="middle" textLength="17.6" lengthAdjust="spacingAndGlyphs">1700</text>
<text x="45.90" y="366.30" font-size="11.60" font-weight="bold" fill="#1a1a1a" textLength="84.00" lengthAdjust="spacingAndGlyphs" >Wavenumber, cm</text>
<text x="130.00" y="363.30" font-size="6.80" font-weight="bold" fill="#1a1a1a" textLength="5.40" lengthAdjust="spacingAndGlyphs" >-1</text>
<text transform="translate(11.4,285.1) rotate(-90)" x="0" y="0" font-size="11" font-weight="bold" fill="#1a1a1a" textLength="62.9" lengthAdjust="spacingAndGlyphs">Intensity, a.u.</text>
<path d="M23.10,283.19 L23.35,283.19 L23.60,283.19 L23.85,283.19 L24.10,283.19 L24.35,283.19 L24.60,283.19 L24.85,283.19 L25.10,283.19 L25.35,283.19 L25.60,283.19 L25.85,283.19 L26.10,283.19 L26.35,283.19 L26.60,283.19 L26.85,283.19 L27.10,283.19 L27.35,283.19 L27.60,283.19 L27.85,283.19 L28.10,283.19 L28.35,283.19 L28.60,283.19 L28.85,283.19 L29.10,283.19 L29.35,283.19 L29.60,283.19 L29.85,283.19 L30.10,283.19 L30.35,283.19 L30.60,283.19 L30.85,283.19 L31.10,283.19 L31.35,283.19 L31.60,283.19 L31.85,283.19 L32.10,283.19 L32.35,283.19 L32.60,283.19 L32.85,283.19 L33.10,283.19 L33.35,283.19 L33.60,283.19 L33.85,283.19 L34.10,283.19 L34.35,283.19 L34.60,283.19 L34.85,283.19 L35.10,283.19 L35.35,283.19 L35.60,283.19 L35.85,283.19 L36.10,283.19 L36.35,283.19 L36.60,283.18 L36.85,283.18 L37.10,283.18 L37.35,283.18 L37.60,283.18 L37.85,283.18 L38.10,283.18 L38.35,283.18 L38.60,283.18 L38.85,283.18 L39.10,283.18 L39.35,283.18 L39.60,283.18 L39.85,283.18 L40.10,283.18 L40.35,283.18 L40.60,283.18 L40.85,283.18 L41.10,283.18 L41.35,283.18 L41.60,283.18 L41.85,283.18 L42.10,283.18 L42.35,283.18 L42.60,283.18 L42.85,283.18 L43.10,283.18 L43.35,283.18 L43.60,283.18 L43.85,283.18 L44.10,283.18 L44.35,283.18 L44.60,283.18 L44.85,283.18 L45.10,283.18 L45.35,283.18 L45.60,283.18 L45.85,283.17 L46.10,283.17 L46.35,283.17 L46.60,283.17 L46.85,283.17 L47.10,283.17 L47.35,283.17 L47.60,283.17 L47.85,283.17 L48.10,283.17 L48.35,283.17 L48.60,283.17 L48.85,283.17 L49.10,283.17 L49.35,283.17 L49.60,283.17 L49.85,283.17 L50.10,283.17 L50.35,283.17 L50.60,283.16 L50.85,283.16 L51.10,283.16 L51.35,283.16 L51.60,283.16 L51.85,283.16 L52.10,283.16 L52.35,283.16 L52.60,283.16 L52.85,283.16 L53.10,283.16 L53.35,283.15 L53.60,283.15 L53.85,283.15 L54.10,283.15 L54.35,283.15 L54.60,283.15 L54.85,283.15 L55.10,283.15 L55.35,283.14 L55.60,283.14 L55.85,283.14 L56.10,283.14 L56.35,283.14 L56.60,283.14 L56.85,283.13 L57.10,283.13 L57.35,283.13 L57.60,283.13 L57.85,283.13 L58.10,283.12 L58.35,283.12 L58.60,283.12 L58.85,283.12 L59.10,283.11 L59.35,283.11 L59.60,283.11 L59.85,283.10 L60.10,283.10 L60.35,283.10 L60.60,283.09 L60.85,283.09 L61.10,283.08 L61.35,283.08 L61.60,283.07 L61.85,283.07 L62.10,283.06 L62.35,283.06 L62.60,283.05 L62.85,283.04 L63.10,283.03 L63.35,283.02 L63.60,283.02 L63.85,283.00 L64.10,283.01 L64.35,283.03 L64.60,283.06 L64.85,283.08 L65.10,283.10 L65.35,283.12 L65.60,283.14 L65.85,283.16 L66.10,283.17 L66.35,283.18 L66.60,283.18 L66.85,283.16 L67.10,283.14 L67.35,283.09 L67.60,283.00 L67.85,282.87 L68.10,282.65 L68.35,282.34 L68.60,281.89 L68.85,281.25 L69.10,280.40 L69.35,279.27 L69.60,277.84 L69.85,276.07 L70.10,273.98 L70.35,271.58 L70.60,268.94 L70.85,266.16 L71.10,263.37 L71.35,260.73 L71.60,258.45 L71.85,256.70 L72.10,255.67 L72.35,255.45 L72.60,256.08 L72.85,257.49 L73.10,259.55 L73.35,262.07 L73.60,264.86 L73.85,267.74 L74.10,270.55 L74.35,273.18 L74.60,275.54 L74.85,277.57 L75.10,279.28 L75.35,280.66 L75.60,281.74 L75.85,282.58 L76.10,283.19 L76.35,283.62 L76.60,283.92 L76.85,284.13 L77.10,284.28 L77.35,284.38 L77.60,284.45 L77.85,284.50 L78.10,284.54 L78.35,284.57 L78.60,284.60 L78.85,284.61 L79.10,284.63 L79.35,284.64 L79.60,284.65 L79.85,284.66 L80.10,284.67 L80.35,284.67 L80.60,284.68 L80.85,284.68 L81.10,284.68 L81.35,284.68 L81.60,284.67 L81.85,284.67 L82.10,284.66 L82.35,284.64 L82.60,284.62 L82.85,284.58 L83.10,284.53 L83.35,284.45 L83.60,284.33 L83.85,284.17 L84.10,283.96 L84.35,283.66 L84.60,283.29 L84.85,282.84 L85.10,282.30 L85.35,281.69 L85.60,281.02 L85.85,280.31 L86.10,279.62 L86.35,278.98 L86.60,278.43 L86.85,278.04 L87.10,277.83 L87.35,277.84 L87.60,278.05 L87.85,278.45 L88.10,278.98 L88.35,279.61 L88.60,280.27 L88.85,280.94 L89.10,281.56 L89.35,282.13 L89.60,282.61 L89.85,283.01 L90.10,283.33 L90.35,283.57 L90.60,283.75 L90.85,283.87 L91.10,283.94 L91.35,283.99 L91.60,284.00 L91.85,284.00 L92.10,283.98 L92.35,283.94 L92.60,283.90 L92.85,283.84 L93.10,283.78 L93.35,283.72 L93.60,283.66 L93.85,283.59 L94.10,283.51 L94.35,283.43 L94.60,283.35 L94.85,283.27 L95.10,283.18 L95.35,283.09 L95.60,282.99 L95.85,282.90 L96.10,282.79 L96.35,282.69 L96.60,282.58 L96.85,282.47 L97.10,282.36 L97.35,282.24 L97.60,282.13 L97.85,282.01 L98.10,281.90 L98.35,281.80 L98.60,281.71 L98.85,281.61 L99.10,281.51 L99.35,281.42 L99.60,281.32 L99.85,281.23 L100.10,281.14 L100.35,281.05 L100.60,280.97 L100.85,280.89 L101.10,280.82 L101.35,280.75 L101.60,280.68 L101.85,280.62 L102.10,280.57 L102.35,280.52 L102.60,280.48 L102.85,280.45 L103.10,280.43 L103.35,280.41 L103.60,280.39 L103.85,280.39 L104.10,280.39 L104.35,280.40 L104.60,280.42 L104.85,280.44 L105.10,280.47 L105.35,280.51 L105.60,280.55 L105.85,280.60 L106.10,280.65 L106.35,280.70 L106.60,280.76 L106.85,280.83 L107.10,280.90 L107.35,280.97 L107.60,281.04 L107.85,281.11 L108.10,281.18 L108.35,281.26 L108.60,281.33 L108.85,281.41 L109.10,281.48 L109.35,281.55 L109.60,281.63 L109.85,281.69 L110.10,281.76 L110.35,281.82 L110.60,281.88 L110.85,281.94 L111.10,281.99 L111.35,282.04 L111.60,282.08 L111.85,282.12 L112.10,282.14 L112.35,282.15 L112.60,282.13 L112.85,282.09 L113.10,282.02 L113.35,281.90 L113.60,281.73 L113.85,281.51 L114.10,281.22 L114.35,280.89 L114.60,280.51 L114.85,280.11 L115.10,279.73 L115.35,279.38 L115.60,279.12 L115.85,278.97 L116.10,278.95 L116.35,279.07 L116.60,279.31 L116.85,279.64 L117.10,280.02 L117.35,280.42 L117.60,280.80 L117.85,281.15 L118.10,281.44 L118.35,281.68 L118.60,281.87 L118.85,282.00 L119.10,282.09 L119.35,282.15 L119.60,282.17 L119.85,282.18 L120.10,282.18 L120.35,282.17 L120.60,282.15 L120.85,282.12 L121.10,282.09 L121.35,282.04 L121.60,281.98 L121.85,281.91 L122.10,281.81 L122.35,281.67 L122.60,281.48 L122.85,281.22 L123.10,280.86 L123.35,280.36 L123.60,279.68 L123.85,278.78 L124.10,277.61 L124.35,276.10 L124.60,274.22 L124.85,271.92 L125.10,269.20 L125.35,266.06 L125.60,262.54 L125.85,258.73 L126.10,254.75 L126.35,250.75 L126.60,246.93 L126.85,243.51 L127.10,240.71 L127.35,238.73 L127.60,237.76 L127.85,237.86 L128.10,239.03 L128.35,241.18 L128.60,244.10 L128.85,247.60 L129.10,251.45 L129.35,255.43 L129.60,259.35 L129.85,263.07 L130.10,266.47 L130.35,269.47 L130.60,272.04 L130.85,274.18 L131.10,275.90 L131.35,277.26 L131.60,278.29 L131.85,279.05 L132.10,279.61 L132.35,279.99 L132.60,280.26 L132.85,280.44 L133.10,280.57 L133.35,280.66 L133.60,280.72 L133.85,280.78 L134.10,280.83 L134.35,280.88 L134.60,280.93 L134.85,280.98 L135.10,281.03 L135.35,281.08 L135.60,281.12 L135.85,281.15 L136.10,281.18 L136.35,281.19 L136.60,281.20 L136.85,281.19 L137.10,281.18 L137.35,281.15 L137.60,281.12 L137.85,281.08 L138.10,281.03 L138.35,280.97 L138.60,280.91 L138.85,280.85 L139.10,280.79 L139.35,280.73 L139.60,280.67 L139.85,280.61 L140.10,280.56 L140.35,280.51 L140.60,280.47 L140.85,280.44 L141.10,280.41 L141.35,280.39 L141.60,280.38 L141.85,280.37 L142.10,280.37 L142.35,280.39 L142.60,280.41 L142.85,280.43 L143.10,280.47 L143.35,280.51 L143.60,280.56 L143.85,280.62 L144.10,280.68 L144.35,280.75 L144.60,280.83 L144.85,280.90 L145.10,280.98 L145.35,281.06 L145.60,281.15 L145.85,281.23 L146.10,281.32 L146.35,281.40 L146.60,281.49 L146.85,281.57 L147.10,281.65 L147.35,281.73 L147.60,281.81 L147.85,281.88 L148.10,281.95 L148.35,282.01 L148.60,282.07 L148.85,282.13 L149.10,282.19 L149.35,282.23 L149.60,282.28 L149.85,282.32 L150.10,282.36 L150.35,282.41 L150.60,282.44 L150.85,282.48 L151.10,282.51 L151.35,282.54 L151.60,282.56 L151.85,282.59 L152.10,282.61 L152.35,282.63 L152.60,282.65 L152.85,282.66 L153.10,282.68 L153.35,282.69 L153.60,282.71 L153.85,282.72 L154.10,282.73 L154.35,282.74 L154.60,282.75 L154.85,282.76 L155.10,282.77 L155.35,282.77 L155.60,282.78 L155.85,282.79 L156.10,282.80 L156.35,282.80 L156.60,282.81 L156.85,282.82 L157.10,282.82 L157.35,282.83 L157.60,282.84 L157.85,282.84 L158.10,282.85 L158.35,282.85 L158.60,282.86" fill="none" stroke="#3cad6e" stroke-width="1.3"/>
<path d="M23.10,307.18 L23.35,307.18 L23.60,307.17 L23.85,307.17 L24.10,307.16 L24.35,307.16 L24.60,307.16 L24.85,307.15 L25.10,307.15 L25.35,307.14 L25.60,307.14 L25.85,307.13 L26.10,307.13 L26.35,307.13 L26.60,307.12 L26.85,307.12 L27.10,307.11 L27.35,307.11 L27.60,307.11 L27.85,307.10 L28.10,307.10 L28.35,307.09 L28.60,307.09 L28.85,307.09 L29.10,307.08 L29.35,307.08 L29.60,307.07 L29.85,307.07 L30.10,307.07 L30.35,307.06 L30.60,307.06 L30.85,307.05 L31.10,307.05 L31.35,307.04 L31.60,307.04 L31.85,307.04 L32.10,307.03 L32.35,307.03 L32.60,307.02 L32.85,307.02 L33.10,307.02 L33.35,307.01 L33.60,307.01 L33.85,307.00 L34.10,307.00 L34.35,307.00 L34.60,306.99 L34.85,306.99 L35.10,306.98 L35.35,306.98 L35.60,306.97 L35.85,306.97 L36.10,306.97 L36.35,306.96 L36.60,306.96 L36.85,306.95 L37.10,306.95 L37.35,306.95 L37.60,306.94 L37.85,306.94 L38.10,306.93 L38.35,306.93 L38.60,306.93 L38.85,306.92 L39.10,306.92 L39.35,306.91 L39.60,306.91 L39.85,306.91 L40.10,306.90 L40.35,306.90 L40.60,306.89 L40.85,306.89 L41.10,306.88 L41.35,306.88 L41.60,306.88 L41.85,306.87 L42.10,306.87 L42.35,306.86 L42.60,306.86 L42.85,306.86 L43.10,306.85 L43.35,306.85 L43.60,306.84 L43.85,306.84 L44.10,306.83 L44.35,306.83 L44.60,306.83 L44.85,306.82 L45.10,306.82 L45.35,306.81 L45.60,306.81 L45.85,306.81 L46.10,306.80 L46.35,306.80 L46.60,306.79 L46.85,306.79 L47.10,306.78 L47.35,306.78 L47.60,306.78 L47.85,306.77 L48.10,306.77 L48.35,306.76 L48.60,306.76 L48.85,306.76 L49.10,306.75 L49.35,306.75 L49.60,306.74 L49.85,306.74 L50.10,306.73 L50.35,306.73 L50.60,306.73 L50.85,306.72 L51.10,306.72 L51.35,306.71 L51.60,306.71 L51.85,306.70 L52.10,306.70 L52.35,306.70 L52.60,306.69 L52.85,306.69 L53.10,306.68 L53.35,306.68 L53.60,306.67 L53.85,306.67 L54.10,306.67 L54.35,306.66 L54.60,306.66 L54.85,306.65 L55.10,306.65 L55.35,306.64 L55.60,306.64 L55.85,306.64 L56.10,306.63 L56.35,306.63 L56.60,306.62 L56.85,306.62 L57.10,306.61 L57.35,306.61 L57.60,306.60 L57.85,306.60 L58.10,306.59 L58.35,306.59 L58.60,306.59 L58.85,306.58 L59.10,306.58 L59.35,306.57 L59.60,306.57 L59.85,306.56 L60.10,306.56 L60.35,306.55 L60.60,306.55 L60.85,306.54 L61.10,306.54 L61.35,306.53 L61.60,306.52 L61.85,306.52 L62.10,306.51 L62.35,306.51 L62.60,306.50 L62.85,306.50 L63.10,306.49 L63.35,306.48 L63.60,306.48 L63.85,306.47 L64.10,306.46 L64.35,306.45 L64.60,306.45 L64.85,306.44 L65.10,306.43 L65.35,306.41 L65.60,306.40 L65.85,306.38 L66.10,306.35 L66.35,306.32 L66.60,306.27 L66.85,306.20 L67.10,306.12 L67.35,306.01 L67.60,305.86 L67.85,305.68 L68.10,305.46 L68.35,305.19 L68.60,304.88 L68.85,304.53 L69.10,304.15 L69.35,303.76 L69.60,303.36 L69.85,302.98 L70.10,302.65 L70.35,302.37 L70.60,302.19 L70.85,302.11 L71.10,302.14 L71.35,302.28 L71.60,302.51 L71.85,302.81 L72.10,303.17 L72.35,303.55 L72.60,303.95 L72.85,304.33 L73.10,304.68 L73.35,305.00 L73.60,305.27 L73.85,305.51 L74.10,305.70 L74.35,305.85 L74.60,305.96 L74.85,306.05 L75.10,306.12 L75.35,306.16 L75.60,306.19 L75.85,306.22 L76.10,306.23 L76.35,306.24 L76.60,306.25 L76.85,306.25 L77.10,306.25 L77.35,306.25 L77.60,306.25 L77.85,306.25 L78.10,306.25 L78.35,306.25 L78.60,306.24 L78.85,306.24 L79.10,306.24 L79.35,306.23 L79.60,306.23 L79.85,306.23 L80.10,306.22 L80.35,306.22 L80.60,306.21 L80.85,306.21 L81.10,306.20 L81.35,306.20 L81.60,306.19 L81.85,306.18 L82.10,306.17 L82.35,306.16 L82.60,306.14 L82.85,306.11 L83.10,306.08 L83.35,306.04 L83.60,305.98 L83.85,305.90 L84.10,305.80 L84.35,305.67 L84.60,305.51 L84.85,305.32 L85.10,305.10 L85.35,304.84 L85.60,304.56 L85.85,304.26 L86.10,303.95 L86.35,303.65 L86.60,303.38 L86.85,303.15 L87.10,302.98 L87.35,302.88 L87.60,302.87 L87.85,302.94 L88.10,303.09 L88.35,303.31 L88.60,303.57 L88.85,303.85 L89.10,304.15 L89.35,304.45 L89.60,304.73 L89.85,304.98 L90.10,305.21 L90.35,305.40 L90.60,305.56 L90.85,305.69 L91.10,305.78 L91.35,305.86 L91.60,305.92 L91.85,305.96 L92.10,305.98 L92.35,306.00 L92.60,306.02 L92.85,306.02 L93.10,306.03 L93.35,306.03 L93.60,306.03 L93.85,306.03 L94.10,306.03 L94.35,306.03 L94.60,306.03 L94.85,306.03 L95.10,306.03 L95.35,306.03 L95.60,306.02 L95.85,306.02 L96.10,306.02 L96.35,306.02 L96.60,306.01 L96.85,306.01 L97.10,306.01 L97.35,306.01 L97.60,306.00 L97.85,306.00 L98.10,306.00 L98.35,305.99 L98.60,305.99 L98.85,305.99 L99.10,305.99 L99.35,305.98 L99.60,305.98 L99.85,305.98 L100.10,305.97 L100.35,305.96 L100.60,305.94 L100.85,305.93 L101.10,305.92 L101.35,305.91 L101.60,305.89 L101.85,305.88 L102.10,305.87 L102.35,305.86 L102.60,305.84 L102.85,305.83 L103.10,305.82 L103.35,305.81 L103.60,305.79 L103.85,305.78 L104.10,305.77 L104.35,305.76 L104.60,305.74 L104.85,305.73 L105.10,305.72 L105.35,305.71 L105.60,305.69 L105.85,305.68 L106.10,305.67 L106.35,305.65 L106.60,305.64 L106.85,305.63 L107.10,305.62 L107.35,305.60 L107.60,305.59 L107.85,305.58 L108.10,305.56 L108.35,305.55 L108.60,305.54 L108.85,305.52 L109.10,305.51 L109.35,305.50 L109.60,305.48 L109.85,305.47 L110.10,305.46 L110.35,305.44 L110.60,305.43 L110.85,305.42 L111.10,305.40 L111.35,305.39 L111.60,305.38 L111.85,305.36 L112.10,305.35 L112.35,305.34 L112.60,305.32 L112.85,305.31 L113.10,305.29 L113.35,305.28 L113.60,305.27 L113.85,305.25 L114.10,305.24 L114.35,305.22 L114.60,305.21 L114.85,305.19 L115.10,305.18 L115.35,305.16 L115.60,305.15 L115.85,305.13 L116.10,305.12 L116.35,305.10 L116.60,305.09 L116.85,305.07 L117.10,305.05 L117.35,305.04 L117.60,305.02 L117.85,305.00 L118.10,304.98 L118.35,304.97 L118.60,304.95 L118.85,304.93 L119.10,304.91 L119.35,304.89 L119.60,304.87 L119.85,304.84 L120.10,304.83 L120.35,304.81 L120.60,304.80 L120.85,304.78 L121.10,304.76 L121.35,304.74 L121.60,304.71 L121.85,304.66 L122.10,304.60 L122.35,304.51 L122.60,304.39 L122.85,304.23 L123.10,304.01 L123.35,303.71 L123.60,303.31 L123.85,302.80 L124.10,302.16 L124.35,301.37 L124.60,300.42 L124.85,299.31 L125.10,298.05 L125.35,296.66 L125.60,295.20 L125.85,293.70 L126.10,292.24 L126.35,290.90 L126.60,289.75 L126.85,288.88 L127.10,288.37 L127.35,288.24 L127.60,288.53 L127.85,289.20 L128.10,290.19 L128.35,291.43 L128.60,292.83 L128.85,294.32 L129.10,295.81 L129.35,297.25 L129.60,298.59 L129.85,299.79 L130.10,300.85 L130.35,301.74 L130.60,302.47 L130.85,303.06 L131.10,303.52 L131.35,303.88 L131.60,304.15 L131.85,304.35 L132.10,304.50 L132.35,304.60 L132.60,304.68 L132.85,304.74 L133.10,304.78 L133.35,304.81 L133.60,304.84 L133.85,304.86 L134.10,304.88 L134.35,304.89 L134.60,304.91 L134.85,304.92 L135.10,304.93 L135.35,304.94 L135.60,304.95 L135.85,304.96 L136.10,304.96 L136.35,304.97 L136.60,304.98 L136.85,304.98 L137.10,304.99 L137.35,305.00 L137.60,305.00 L137.85,305.01 L138.10,305.01 L138.35,305.02 L138.60,305.02 L138.85,305.03 L139.10,305.03 L139.35,305.03 L139.60,305.04 L139.85,305.04 L140.10,305.04 L140.35,305.05 L140.60,305.05 L140.85,305.05 L141.10,305.06 L141.35,305.06 L141.60,305.06 L141.85,305.07 L142.10,305.07 L142.35,305.07 L142.60,305.07 L142.85,305.08 L143.10,305.08 L143.35,305.08 L143.60,305.08 L143.85,305.09 L144.10,305.09 L144.35,305.09 L144.60,305.09 L144.85,305.10 L145.10,305.10 L145.35,305.10 L145.60,305.10 L145.85,305.10 L146.10,305.11 L146.35,305.11 L146.60,305.11 L146.85,305.11 L147.10,305.11 L147.35,305.12 L147.60,305.12 L147.85,305.12 L148.10,305.12 L148.35,305.12 L148.60,305.12 L148.85,305.13 L149.10,305.13 L149.35,305.13 L149.60,305.13 L149.85,305.13 L150.10,305.14 L150.35,305.14 L150.60,305.14 L150.85,305.14 L151.10,305.14 L151.35,305.14 L151.60,305.15 L151.85,305.15 L152.10,305.15 L152.35,305.15 L152.60,305.15 L152.85,305.15 L153.10,305.15 L153.35,305.16 L153.60,305.16 L153.85,305.16 L154.10,305.16 L154.35,305.16 L154.60,305.16 L154.85,305.17 L155.10,305.17 L155.35,305.17 L155.60,305.17 L155.85,305.17 L156.10,305.17 L156.35,305.17 L156.60,305.18 L156.85,305.18 L157.10,305.18 L157.35,305.18 L157.60,305.18 L157.85,305.18 L158.10,305.18 L158.35,305.19 L158.60,305.19" fill="none" stroke="#3a86cf" stroke-width="1.2"/>
<path d="M23.10,327.38 L23.35,327.38 L23.60,327.37 L23.85,327.37 L24.10,327.37 L24.35,327.36 L24.60,327.36 L24.85,327.36 L25.10,327.35 L25.35,327.35 L25.60,327.34 L25.85,327.34 L26.10,327.34 L26.35,327.33 L26.60,327.33 L26.85,327.32 L27.10,327.32 L27.35,327.32 L27.60,327.31 L27.85,327.31 L28.10,327.31 L28.35,327.30 L28.60,327.30 L28.85,327.29 L29.10,327.29 L29.35,327.29 L29.60,327.28 L29.85,327.28 L30.10,327.27 L30.35,327.27 L30.60,327.27 L30.85,327.26 L31.10,327.26 L31.35,327.26 L31.60,327.25 L31.85,327.25 L32.10,327.24 L32.35,327.24 L32.60,327.24 L32.85,327.23 L33.10,327.23 L33.35,327.22 L33.60,327.22 L33.85,327.22 L34.10,327.21 L34.35,327.21 L34.60,327.21 L34.85,327.20 L35.10,327.20 L35.35,327.19 L35.60,327.19 L35.85,327.19 L36.10,327.18 L36.35,327.18 L36.60,327.17 L36.85,327.17 L37.10,327.17 L37.35,327.16 L37.60,327.16 L37.85,327.16 L38.10,327.15 L38.35,327.15 L38.60,327.14 L38.85,327.14 L39.10,327.14 L39.35,327.13 L39.60,327.13 L39.85,327.12 L40.10,327.12 L40.35,327.12 L40.60,327.11 L40.85,327.11 L41.10,327.11 L41.35,327.10 L41.60,327.10 L41.85,327.09 L42.10,327.09 L42.35,327.09 L42.60,327.08 L42.85,327.08 L43.10,327.07 L43.35,327.07 L43.60,327.07 L43.85,327.06 L44.10,327.06 L44.35,327.06 L44.60,327.05 L44.85,327.05 L45.10,327.04 L45.35,327.04 L45.60,327.04 L45.85,327.03 L46.10,327.03 L46.35,327.02 L46.60,327.02 L46.85,327.02 L47.10,327.01 L47.35,327.01 L47.60,327.01 L47.85,327.00 L48.10,327.00 L48.35,326.99 L48.60,326.99 L48.85,326.99 L49.10,326.98 L49.35,326.98 L49.60,326.97 L49.85,326.97 L50.10,326.97 L50.35,326.96 L50.60,326.96 L50.85,326.95 L51.10,326.95 L51.35,326.95 L51.60,326.94 L51.85,326.94 L52.10,326.94 L52.35,326.93 L52.60,326.93 L52.85,326.92 L53.10,326.92 L53.35,326.92 L53.60,326.91 L53.85,326.91 L54.10,326.90 L54.35,326.90 L54.60,326.90 L54.85,326.89 L55.10,326.89 L55.35,326.88 L55.60,326.88 L55.85,326.88 L56.10,326.87 L56.35,326.87 L56.60,326.86 L56.85,326.86 L57.10,326.86 L57.35,326.85 L57.60,326.85 L57.85,326.84 L58.10,326.84 L58.35,326.84 L58.60,326.83 L58.85,326.83 L59.10,326.82 L59.35,326.82 L59.60,326.82 L59.85,326.81 L60.10,326.81 L60.35,326.80 L60.60,326.80 L60.85,326.79 L61.10,326.79 L61.35,326.79 L61.60,326.78 L61.85,326.78 L62.10,326.77 L62.35,326.77 L62.60,326.76 L62.85,326.76 L63.10,326.75 L63.35,326.75 L63.60,326.75 L63.85,326.74 L64.10,326.74 L64.35,326.73 L64.60,326.73 L64.85,326.72 L65.10,326.72 L65.35,326.71 L65.60,326.70 L65.85,326.70 L66.10,326.69 L66.35,326.69 L66.60,326.68 L66.85,326.67 L67.10,326.66 L67.35,326.65 L67.60,326.63 L67.85,326.61 L68.10,326.59 L68.35,326.55 L68.60,326.50 L68.85,326.43 L69.10,326.35 L69.35,326.23 L69.60,326.09 L69.85,325.92 L70.10,325.72 L70.35,325.49 L70.60,325.24 L70.85,324.97 L71.10,324.70 L71.35,324.45 L71.60,324.23 L71.85,324.06 L72.10,323.96 L72.35,323.93 L72.60,323.98 L72.85,324.10 L73.10,324.29 L73.35,324.52 L73.60,324.77 L73.85,325.03 L74.10,325.28 L74.35,325.52 L74.60,325.73 L74.85,325.92 L75.10,326.07 L75.35,326.19 L75.60,326.28 L75.85,326.35 L76.10,326.40 L76.35,326.44 L76.60,326.47 L76.85,326.48 L77.10,326.49 L77.35,326.50 L77.60,326.50 L77.85,326.50 L78.10,326.50 L78.35,326.50 L78.60,326.50 L78.85,326.50 L79.10,326.50 L79.35,326.50 L79.60,326.49 L79.85,326.49 L80.10,326.49 L80.35,326.49 L80.60,326.48 L80.85,326.48 L81.10,326.48 L81.35,326.47 L81.60,326.47 L81.85,326.47 L82.10,326.46 L82.35,326.46 L82.60,326.46 L82.85,326.45 L83.10,326.45 L83.35,326.45 L83.60,326.44 L83.85,326.44 L84.10,326.44 L84.35,326.43 L84.60,326.43 L84.85,326.43 L85.10,326.42 L85.35,326.42 L85.60,326.42 L85.85,326.41 L86.10,326.41 L86.35,326.41 L86.60,326.40 L86.85,326.40 L87.10,326.39 L87.35,326.39 L87.60,326.39 L87.85,326.38 L88.10,326.38 L88.35,326.38 L88.60,326.37 L88.85,326.37 L89.10,326.37 L89.35,326.36 L89.60,326.36 L89.85,326.35 L90.10,326.35 L90.35,326.35 L90.60,326.34 L90.85,326.34 L91.10,326.34 L91.35,326.33 L91.60,326.33 L91.85,326.32 L92.10,326.32 L92.35,326.32 L92.60,326.31 L92.85,326.31 L93.10,326.31 L93.35,326.30 L93.60,326.30 L93.85,326.29 L94.10,326.29 L94.35,326.29 L94.60,326.28 L94.85,326.28 L95.10,326.27 L95.35,326.27 L95.60,326.27 L95.85,326.26 L96.10,326.26 L96.35,326.26 L96.60,326.25 L96.85,326.25 L97.10,326.24 L97.35,326.24 L97.60,326.24 L97.85,326.23 L98.10,326.23 L98.35,326.22 L98.60,326.22 L98.85,326.22 L99.10,326.21 L99.35,326.21 L99.60,326.21 L99.85,326.20 L100.10,326.20 L100.35,326.19 L100.60,326.19 L100.85,326.19 L101.10,326.18 L101.35,326.18 L101.60,326.17 L101.85,326.17 L102.10,326.17 L102.35,326.16 L102.60,326.16 L102.85,326.16 L103.10,326.15 L103.35,326.15 L103.60,326.14 L103.85,326.14 L104.10,326.14 L104.35,326.13 L104.60,326.13 L104.85,326.12 L105.10,326.12 L105.35,326.12 L105.60,326.11 L105.85,326.11 L106.10,326.10 L106.35,326.10 L106.60,326.10 L106.85,326.09 L107.10,326.09 L107.35,326.08 L107.60,326.08 L107.85,326.08 L108.10,326.07 L108.35,326.07 L108.60,326.06 L108.85,326.06 L109.10,326.06 L109.35,326.05 L109.60,326.05 L109.85,326.04 L110.10,326.04 L110.35,326.04 L110.60,326.03 L110.85,326.03 L111.10,326.02 L111.35,326.02 L111.60,326.02 L111.85,326.01 L112.10,326.01 L112.35,326.00 L112.60,326.00 L112.85,326.00 L113.10,325.99 L113.35,325.99 L113.60,325.98 L113.85,325.98 L114.10,325.97 L114.35,325.97 L114.60,325.97 L114.85,325.96 L115.10,325.96 L115.35,325.95 L115.60,325.95 L115.85,325.94 L116.10,325.94 L116.35,325.93 L116.60,325.93 L116.85,325.92 L117.10,325.92 L117.35,325.92 L117.60,325.91 L117.85,325.91 L118.10,325.90 L118.35,325.89 L118.60,325.89 L118.85,325.88 L119.10,325.88 L119.35,325.87 L119.60,325.87 L119.85,325.86 L120.10,325.85 L120.35,325.85 L120.60,325.84 L120.85,325.83 L121.10,325.82 L121.35,325.81 L121.60,325.80 L121.85,325.79 L122.10,325.77 L122.35,325.75 L122.60,325.72 L122.85,325.68 L123.10,325.63 L123.35,325.56 L123.60,325.47 L123.85,325.36 L124.10,325.22 L124.35,325.05 L124.60,324.84 L124.85,324.60 L125.10,324.32 L125.35,324.01 L125.60,323.67 L125.85,323.33 L126.10,322.98 L126.35,322.64 L126.60,322.34 L126.85,322.09 L127.10,321.90 L127.35,321.80 L127.60,321.79 L127.85,321.87 L128.10,322.03 L128.35,322.26 L128.60,322.55 L128.85,322.87 L129.10,323.21 L129.35,323.55 L129.60,323.88 L129.85,324.19 L130.10,324.46 L130.35,324.71 L130.60,324.91 L130.85,325.08 L131.10,325.22 L131.35,325.33 L131.60,325.42 L131.85,325.48 L132.10,325.53 L132.35,325.56 L132.60,325.59 L132.85,325.60 L133.10,325.61 L133.35,325.62 L133.60,325.63 L133.85,325.63 L134.10,325.63 L134.35,325.63 L134.60,325.63 L134.85,325.63 L135.10,325.63 L135.35,325.63 L135.60,325.62 L135.85,325.62 L136.10,325.62 L136.35,325.62 L136.60,325.62 L136.85,325.61 L137.10,325.61 L137.35,325.61 L137.60,325.60 L137.85,325.60 L138.10,325.60 L138.35,325.60 L138.60,325.59 L138.85,325.59 L139.10,325.59 L139.35,325.58 L139.60,325.58 L139.85,325.58 L140.10,325.57 L140.35,325.57 L140.60,325.57 L140.85,325.56 L141.10,325.56 L141.35,325.56 L141.60,325.55 L141.85,325.55 L142.10,325.55 L142.35,325.54 L142.60,325.54 L142.85,325.54 L143.10,325.53 L143.35,325.53 L143.60,325.53 L143.85,325.52 L144.10,325.52 L144.35,325.52 L144.60,325.51 L144.85,325.51 L145.10,325.51 L145.35,325.50 L145.60,325.50 L145.85,325.49 L146.10,325.49 L146.35,325.49 L146.60,325.48 L146.85,325.48 L147.10,325.48 L147.35,325.47 L147.60,325.47 L147.85,325.46 L148.10,325.46 L148.35,325.46 L148.60,325.45 L148.85,325.45 L149.10,325.45 L149.35,325.44 L149.60,325.44 L149.85,325.44 L150.10,325.43 L150.35,325.43 L150.60,325.42 L150.85,325.42 L151.10,325.42 L151.35,325.41 L151.60,325.41 L151.85,325.41 L152.10,325.40 L152.35,325.40 L152.60,325.39 L152.85,325.39 L153.10,325.39 L153.35,325.38 L153.60,325.38 L153.85,325.38 L154.10,325.37 L154.35,325.37 L154.60,325.36 L154.85,325.36 L155.10,325.36 L155.35,325.35 L155.60,325.35 L155.85,325.35 L156.10,325.34 L156.35,325.34 L156.60,325.33 L156.85,325.33 L157.10,325.33 L157.35,325.32 L157.60,325.32 L157.85,325.31 L158.10,325.31 L158.35,325.31 L158.60,325.30" fill="none" stroke="#cc4a3a" stroke-width="1.1"/>
<line x1="72.30" y1="246.00" x2="72.30" y2="332.00" stroke="#555" stroke-width="0.85" stroke-dasharray="0.9,1.3"/>
<line x1="87.20" y1="268.50" x2="87.20" y2="332.00" stroke="#555" stroke-width="0.85" stroke-dasharray="0.9,1.3"/>
<line x1="116.20" y1="271.50" x2="116.20" y2="332.00" stroke="#555" stroke-width="0.85" stroke-dasharray="0.9,1.3"/>
<line x1="127.70" y1="232.50" x2="127.70" y2="332.00" stroke="#555" stroke-width="0.85" stroke-dasharray="0.9,1.3"/>
<text transform="translate(75.10,241.30) rotate(-90)" font-size="8.4" fill="#333" textLength="39.50" lengthAdjust="spacingAndGlyphs">1455 – ν8</text><text transform="translate(77.30,201.50) rotate(-90)" font-size="5.5" fill="#333">a</text>
<text transform="translate(91.70,265.50) rotate(-90)" font-size="8.4" fill="#333" textLength="41.90" lengthAdjust="spacingAndGlyphs">1490 – ν8</text><text transform="translate(93.90,223.30) rotate(-90)" font-size="5.5" fill="#333">b</text>
<text transform="translate(117.20,264.70) rotate(-90)" font-size="8.4" fill="#333" textLength="44.50" lengthAdjust="spacingAndGlyphs">1575 – ν19</text><text transform="translate(119.40,219.90) rotate(-90)" font-size="5.5" fill="#333">a</text>
<text transform="translate(132.20,228.30) rotate(-90)" font-size="8.4" fill="#333" textLength="46.40" lengthAdjust="spacingAndGlyphs">1605 – ν19</text><text transform="translate(134.40,181.60) rotate(-90)" font-size="5.5" fill="#333">b</text>
<text x="27.00" y="277.20" font-size="12.00" font-weight="normal" fill="#555" textLength="16.20" lengthAdjust="spacingAndGlyphs" >BR</text>
<text x="29.40" y="301.40" font-size="11.30" font-weight="bold" fill="#1a1a1a" textLength="11.60" lengthAdjust="spacingAndGlyphs" >RU</text>
<text x="29.40" y="321.90" font-size="10.60" font-weight="bold" fill="#1a1a1a" textLength="11.60" lengthAdjust="spacingAndGlyphs" >AN</text>
<text x="313.90" y="165.60" font-size="16.50" font-weight="bold" fill="#1a1a1a" textLength="7.20" lengthAdjust="spacingAndGlyphs" >c</text>
<text x="321.70" y="164.30" font-size="15.00" font-weight="bold" fill="#1a1a1a" textLength="3.60" lengthAdjust="spacingAndGlyphs" >)</text>
<rect x="203.35" y="175.50" width="129.25" height="156.90" fill="none" stroke="#1a1a1a" stroke-width="1.3"/>
<line x1="200.55" y1="332.40" x2="203.35" y2="332.40" stroke="#1a1a1a" stroke-width="1.2"/>
<text transform="translate(194.3,331.10) rotate(-90)" font-size="6.9" fill="#6a6a6a" text-anchor="middle" textLength="4.20" lengthAdjust="spacingAndGlyphs">0</text>
<line x1="201.35" y1="319.32" x2="203.35" y2="319.32" stroke="#1a1a1a" stroke-width="1.2"/>
<line x1="200.55" y1="306.25" x2="203.35" y2="306.25" stroke="#1a1a1a" stroke-width="1.2"/>
<text transform="translate(194.3,304.95) rotate(-90)" font-size="6.9" fill="#6a6a6a" text-anchor="middle" textLength="9.40" lengthAdjust="spacingAndGlyphs">0.2</text>
<line x1="201.35" y1="293.17" x2="203.35" y2="293.17" stroke="#1a1a1a" stroke-width="1.2"/>
<line x1="200.55" y1="280.10" x2="203.35" y2="280.10" stroke="#1a1a1a" stroke-width="1.2"/>
<text transform="translate(194.3,278.80) rotate(-90)" font-size="6.9" fill="#6a6a6a" text-anchor="middle" textLength="9.40" lengthAdjust="spacingAndGlyphs">0.4</text>
<line x1="201.35" y1="267.02" x2="203.35" y2="267.02" stroke="#1a1a1a" stroke-width="1.2"/>
<line x1="200.55" y1="253.95" x2="203.35" y2="253.95" stroke="#1a1a1a" stroke-width="1.2"/>
<text transform="translate(194.3,252.65) rotate(-90)" font-size="6.9" fill="#6a6a6a" text-anchor="middle" textLength="9.40" lengthAdjust="spacingAndGlyphs">0.6</text>
<line x1="201.35" y1="240.87" x2="203.35" y2="240.87" stroke="#1a1a1a" stroke-width="1.2"/>
<line x1="200.55" y1="227.80" x2="203.35" y2="227.80" stroke="#1a1a1a" stroke-width="1.2"/>
<text transform="translate(194.3,226.50) rotate(-90)" font-size="6.9" fill="#6a6a6a" text-anchor="middle" textLength="9.40" lengthAdjust="spacingAndGlyphs">0.8</text>
<line x1="201.35" y1="214.72" x2="203.35" y2="214.72" stroke="#1a1a1a" stroke-width="1.2"/>
<line x1="200.55" y1="201.65" x2="203.35" y2="201.65" stroke="#1a1a1a" stroke-width="1.2"/>
<text transform="translate(194.3,200.35) rotate(-90)" font-size="6.9" fill="#6a6a6a" text-anchor="middle" textLength="9.40" lengthAdjust="spacingAndGlyphs">1.0</text>
<line x1="201.35" y1="188.57" x2="203.35" y2="188.57" stroke="#1a1a1a" stroke-width="1.2"/>
<line x1="200.55" y1="175.50" x2="203.35" y2="175.50" stroke="#1a1a1a" stroke-width="1.2"/>
<text transform="translate(194.3,174.20) rotate(-90)" font-size="6.9" fill="#6a6a6a" text-anchor="middle" textLength="9.40" lengthAdjust="spacingAndGlyphs">1.2</text>
<line x1="212.50" y1="332.40" x2="212.50" y2="335.40" stroke="#1a1a1a" stroke-width="1.25"/>
<line x1="231.10" y1="332.40" x2="231.10" y2="334.60" stroke="#1a1a1a" stroke-width="1.25"/>
<line x1="249.70" y1="332.40" x2="249.70" y2="335.40" stroke="#1a1a1a" stroke-width="1.25"/>
<line x1="268.30" y1="332.40" x2="268.30" y2="334.60" stroke="#1a1a1a" stroke-width="1.25"/>
<line x1="286.90" y1="332.40" x2="286.90" y2="335.40" stroke="#1a1a1a" stroke-width="1.25"/>
<line x1="305.50" y1="332.40" x2="305.50" y2="334.60" stroke="#1a1a1a" stroke-width="1.25"/>
<line x1="324.10" y1="332.40" x2="324.10" y2="335.40" stroke="#1a1a1a" stroke-width="1.25"/>
<text x="213.20" y="349.1" font-size="7.6" fill="#555" text-anchor="middle" textLength="12.9" lengthAdjust="spacingAndGlyphs">150</text>
<text x="249.40" y="349.1" font-size="7.6" fill="#555" text-anchor="middle" textLength="12.9" lengthAdjust="spacingAndGlyphs">250</text>
<text x="286.30" y="349.1" font-size="7.6" fill="#555" text-anchor="middle" textLength="12.9" lengthAdjust="spacingAndGlyphs">350</text>
<text x="322.40" y="349.1" font-size="7.6" fill="#555" text-anchor="middle" textLength="12.9" lengthAdjust="spacingAndGlyphs">450</text>
<text x="230.10" y="365.50" font-size="11.60" font-weight="bold" fill="#1a1a1a" textLength="77.40" lengthAdjust="spacingAndGlyphs" >Temperature, °C</text>
<text transform="translate(181.2,312.4) rotate(-90)" font-size="12" font-weight="bold" fill="#1a1a1a" textLength="116" lengthAdjust="spacingAndGlyphs">Lewis acid sites, µmol/m</text>
<text transform="translate(177.0,195.6) rotate(-90)" font-size="7" font-weight="bold" fill="#1a1a1a">2</text>
<polyline points="212.50,280.10 249.70,308.86" fill="none" stroke="#e0301f" stroke-width="1.5"/>
<polyline points="212.50,240.88 249.70,268.33 286.90,325.86" fill="none" stroke="#2b86e3" stroke-width="1.5"/>
<polyline points="212.50,189.88 249.70,204.26 286.90,256.56 324.10,315.40" fill="none" stroke="#2aa85a" stroke-width="1.5"/>
<rect x="209.80" y="277.40" width="5.4" height="5.4" fill="#e0301f"/>
<rect x="247.00" y="306.16" width="5.4" height="5.4" fill="#e0301f"/>
<circle cx="212.50" cy="240.88" r="2.8" fill="#2b86e3"/>
<circle cx="249.70" cy="268.33" r="2.8" fill="#2b86e3"/>
<circle cx="286.90" cy="325.86" r="2.8" fill="#2b86e3"/>
<polygon points="212.50,186.31 209.10,192.43 215.90,192.43" fill="#2aa85a"/>
<polygon points="249.70,200.69 246.30,206.81 253.10,206.81" fill="#2aa85a"/>
<polygon points="286.90,253.00 283.50,259.12 290.30,259.12" fill="#2aa85a"/>
<polygon points="324.10,311.83 320.70,317.95 327.50,317.95" fill="#2aa85a"/>
<line x1="283.8" y1="213.70" x2="302.4" y2="213.70" stroke="#e0301f" stroke-width="1.5"/>
<rect x="290.20" y="210.80" width="5.8" height="5.9" fill="#e0301f"/>
<text x="311.60" y="217.80" font-size="10.60" font-weight="bold" fill="#262626" textLength="11.30" lengthAdjust="spacingAndGlyphs" >AN</text>
<line x1="283.8" y1="226.30" x2="302.4" y2="226.30" stroke="#2b86e3" stroke-width="1.5"/>
<circle cx="293.1" cy="226.30" r="2.8" fill="#2b86e3"/>
<text x="311.60" y="230.40" font-size="10.60" font-weight="bold" fill="#262626" textLength="11.30" lengthAdjust="spacingAndGlyphs" >RU</text>
<line x1="283.8" y1="238.60" x2="302.4" y2="238.60" stroke="#2aa85a" stroke-width="1.5"/>
<polygon points="293.00,235.16 290.10,240.38 295.90,240.38" fill="#2aa85a"/>
<text x="311.60" y="242.70" font-size="10.60" font-weight="bold" fill="#262626" textLength="11.30" lengthAdjust="spacingAndGlyphs" >BR</text>
</svg>
</body></html>
